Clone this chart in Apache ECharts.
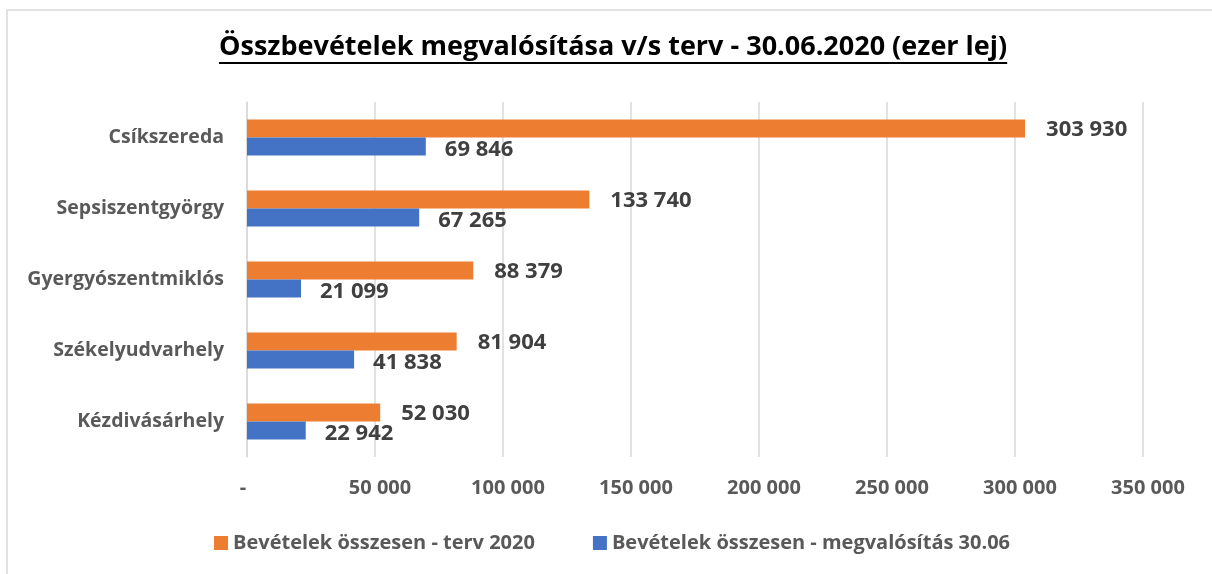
<!DOCTYPE html>
<html>
<head>
<meta charset="utf-8">
<title>Összbevételek</title>
<script src="https://cdn.jsdelivr.net/npm/echarts@6/dist/echarts.min.js"></script>
<style>
  html, body { margin: 0; padding: 0; background: #fff; }
  #main { width: 1212px; height: 574px; }
</style>
</head>
<body>
<div id="main"></div>
<script>
    // adatok (ezer lej)
    var cities = ['Csíkszereda', 'Sepsiszentgyörgy', 'Gyergyószentmiklós', 'Székelyudvarhely', 'Kézdivásárhely'];
    var tervValues = [303930, 133740, 88379, 81904, 52030];
    var megvalValues = [69846, 67265, 21099, 41838, 22942];
    var seriesNames = ['Bevételek összesen - terv 2020', 'Bevételek összesen - megvalósítás 30.06'];
    var titleText = 'Összbevételek megvalósítása v/s terv - 30.06.2020 (ezer lej)';

    var FONT = 'Open Sans';
    var GRAY = '#595959';

    function fmt(v) {
        if (v === 0) return '-';
        return String(v).replace(/\B(?=(\d{3})+(?!\d))/g, ' ');
    }

    // underline width for title
    var ctx = document.createElement('canvas').getContext('2d');
    ctx.font = 'bold 27px ' + FONT;
    var titleW = ctx.measureText(titleText).width;
    var titleX = 219;

    var myChart = echarts.init(document.getElementById('main'));
    myChart.setOption({
        animation: false,
        backgroundColor: '#fff',
        title: {
            text: titleText,
            left: titleX,
            top: 34,
            padding: 0,
            textStyle: { fontFamily: FONT, fontWeight: 'bold', fontSize: 27, color: '#000' }
        },
        graphic: [{
            type: 'rect',
            shape: { x: 7, y: 10, width: 1220, height: 600 },
            style: { fill: null, stroke: '#d9d9d9', lineWidth: 1.5 },
            silent: true
        }, {
            type: 'line',
            shape: { x1: titleX, y1: 63, x2: titleX + titleW, y2: 63 },
            style: { stroke: '#000', lineWidth: 2 },
            silent: true
        }],
        legend: {
            left: 214,
            top: 533,
            padding: 0,
            itemWidth: 14,
            itemHeight: 14,
            itemGap: 58,
            icon: 'rect',
            textStyle: { fontFamily: FONT, fontWeight: 'bold', fontSize: 20, color: GRAY },
            data: seriesNames
        },
        grid: { left: 247, right: 69, top: 102, bottom: 117 },
        xAxis: {
            type: 'value',
            min: 0,
            max: 350000,
            interval: 50000,
            axisLine: { show: false },
            axisTick: { show: false },
            splitLine: { lineStyle: { color: '#d9d9d9', width: 1.5 } },
            axisLabel: {
                margin: 21,
                padding: [0, 0, 0, 10],
                formatter: function (v) { return v === 0 ? '{z|-}' : fmt(v); },
                fontFamily: FONT, fontWeight: 'bold', fontSize: 20, color: GRAY,
                rich: {
                    z: { fontFamily: FONT, fontWeight: 'bold', fontSize: 20, color: GRAY, padding: [0, 18, 0, 0] }
                }
            }
        },
        yAxis: {
            type: 'category',
            inverse: true,
            data: cities,
            axisLine: { show: true, lineStyle: { color: '#d9d9d9', width: 1.5 } },
            axisTick: { show: false },
            axisLabel: {
                margin: 23,
                fontFamily: FONT, fontWeight: 'bold', fontSize: 19.5, color: GRAY
            }
        },
        series: [{
            name: seriesNames[0],
            type: 'bar',
            data: tervValues,
            barWidth: 18,
            barGap: '0%',
            itemStyle: { color: '#ED7D31' },
            label: {
                show: true, position: 'right', distance: 21, offset: [0, 1],
                formatter: function (p) { return fmt(p.value); },
                fontFamily: FONT, fontWeight: 'bold', fontSize: 22, color: '#404040'
            }
        }, {
            name: seriesNames[1],
            type: 'bar',
            data: megvalValues,
            barWidth: 18,
            barGap: '0%',
            itemStyle: { color: '#4472C4' },
            label: {
                show: true, position: 'right', distance: 19, offset: [0, 3],
                formatter: function (p) { return fmt(p.value); },
                fontFamily: FONT, fontWeight: 'bold', fontSize: 22, color: '#404040'
            }
        }]
    });
</script>
</body>
</html>
